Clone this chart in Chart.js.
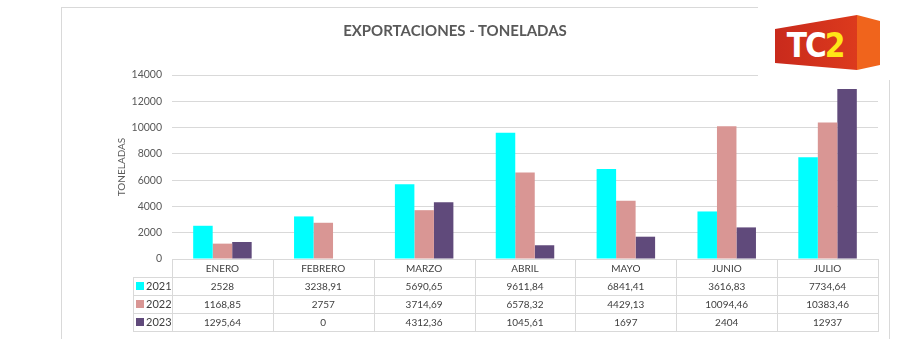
<!DOCTYPE html>
<html>
<head>
<meta charset="utf-8">
<script src="https://cdn.jsdelivr.net/npm/chart.js@4"></script>
<style>
  body { margin: 0; background: #fff; font-family: Lato, "Open Sans", sans-serif; }
  #wrap { position: relative; width: 903px; height: 339px; overflow: hidden; }
  #card { position: absolute; left: 61px; top: 7px; width: 829px; height: 400px; border: 1px solid #d9d9d9; box-sizing: border-box; }
  #myChart { position: absolute; left: 0; top: 0; }
  #title { position: absolute; left: 255px; width: 400px; top: 20px; text-align: center; font-weight: bold; font-size: 15px; color: #595959; line-height: 20px; }
  .cell { position: absolute; box-sizing: border-box; font-size: 10px; color: #404040; text-align: center; line-height: 18px; }
  .hline { position: absolute; height: 1px; background: #d9d9d9; }
  .vline { position: absolute; width: 1px; background: #d9d9d9; }
  .swatch { display: inline-block; width: 8px; height: 8px; margin-right: 2px; vertical-align: -0px; }
  #logoBg { position: absolute; left: 758px; top: 0; width: 145px; height: 80px; background: #fff; }
  .face { position: absolute; }
  #front { left: 775px; top: 15px; width: 82px; height: 55px; background: linear-gradient(90deg, #c92a1c, #dc3a1d); clip-path: polygon(0 14px, 100% 0, 100% 100%, 0 48px); }
  #side { left: 857px; top: 15px; width: 23px; height: 55px; background: #f0641c; clip-path: polygon(0 0, 100% 6px, 100% 50px, 0 100%); }
  #logoText { position: absolute; left: 782px; top: 26px; width: 66px; text-align: center; font-family: "DejaVu Sans Condensed", "DejaVu Sans", sans-serif; font-weight: bold; font-size: 33px; line-height: 40px; color: #fff; letter-spacing: -2px; }
  #logoText span { color: #ffe617; }
</style>
</head>
<body>
<div id="wrap">
  <div id="card"></div>
  <canvas id="myChart" width="903" height="339"></canvas>
  <div id="title">EXPORTACIONES - TONELADAS</div>
  <div id="table"></div>
  <div id="logoBg"></div>
  <div id="front" class="face"></div>
  <div id="side" class="face"></div>
  <div id="logoText">TC<span>2</span></div>
</div>
<script>
const months = ["ENERO", "FEBRERO", "MARZO", "ABRIL", "MAYO", "JUNIO", "JULIO"];
const years = ["2021", "2022", "2023"];
const v2021 = [2528, 3238.91, 5690.65, 9611.84, 6841.41, 3616.83, 7734.64];
const v2022 = [1168.85, 2757, 3714.69, 6578.32, 4429.13, 10094.46, 10383.46];
const v2023 = [1295.64, 0, 4312.36, 1045.61, 1697, 2404, 12937];
const colors = ["#00ffff", "#d99694", "#604a7b"];

function startChart() {
  const series = [v2021, v2022, v2023];
  const ctx = document.getElementById("myChart");

  const myChart = new Chart(ctx, {
    type: "bar",
    data: {
      labels: months,
      datasets: years.map((y, i) => ({
        label: y,
        data: series[i],
        backgroundColor: colors[i],
        borderWidth: 0,
        barPercentage: 1,
        categoryPercentage: 0.58,
      })),
    },
    options: {
      responsive: false,
      animation: false,
      layout: { padding: { left: 110, right: 25, top: 75, bottom: 80 } },
      plugins: { legend: { display: false }, tooltip: { enabled: false } },
      scales: {
        x: { display: false },
        y: {
          min: 0,
          max: 14000,
          ticks: {
            stepSize: 2000,
            color: "#595959",
            padding: 10,
            font: { family: "Lato", size: 10.5 },
            callback: (v) => String(v),
          },
          grid: { color: "#d9d9d9", drawTicks: false },
          border: { display: false },
          title: {
            display: true,
            text: "TONELADAS",
            color: "#595959",
            font: { family: "Lato", size: 10 },
            padding: { top: 6, bottom: 0 },
          },
          afterFit: (scale) => { scale.width = 62; },
        },
      },
    },
  });

  buildTable(myChart, series);
}

function buildTable(chart, series) {
  const table = document.getElementById("table");
  const area = chart.chartArea;
  const xs = chart.scales.x;
  const colW = (area.right - area.left) / months.length;
  const rowH = 18;
  const top = area.bottom;
  const legendLeft = 133;

  function add(cls, styles, html) {
    const d = document.createElement("div");
    d.className = cls;
    Object.assign(d.style, styles);
    if (html !== undefined) d.innerHTML = html;
    table.append(d);
  }

  // header row
  months.forEach((m, i) => {
    const cx = xs.getPixelForValue(i);
    add("cell", { left: (cx - colW / 2) + "px", top: top + "px", width: colW + "px", height: rowH + "px" }, m);
  });
  // data rows
  series.forEach((vals, r) => {
    const y = top + rowH * (r + 1);
    add("cell", { left: legendLeft + "px", top: y + "px", width: (area.left - legendLeft) + "px", height: rowH + "px", textAlign: "left", paddingLeft: "3px", fontSize: "11px" },
      `<span class="swatch" style="background:${colors[r]}"></span>${years[r]}`);
    vals.forEach((v, i) => {
      const cx = xs.getPixelForValue(i);
      add("cell", { left: (cx - colW / 2) + "px", top: y + "px", width: colW + "px", height: rowH + "px" }, String(v).replace(".", ","));
    });
  });

  // lines
  add("hline", { left: area.left + "px", top: top + "px", width: (area.right - area.left + 1) + "px" });
  for (let r = 1; r <= 4; r++) {
    add("hline", { left: legendLeft + "px", top: (top + rowH * r) + "px", width: (area.right - legendLeft + 1) + "px" });
  }
  for (let i = 0; i <= months.length; i++) {
    add("vline", { left: (area.left + colW * i) + "px", top: top + "px", height: (rowH * 4 + 1) + "px" });
  }
  add("vline", { left: legendLeft + "px", top: (top + rowH) + "px", height: (rowH * 3 + 1) + "px" });
}

startChart();
</script>
</body>
</html>
